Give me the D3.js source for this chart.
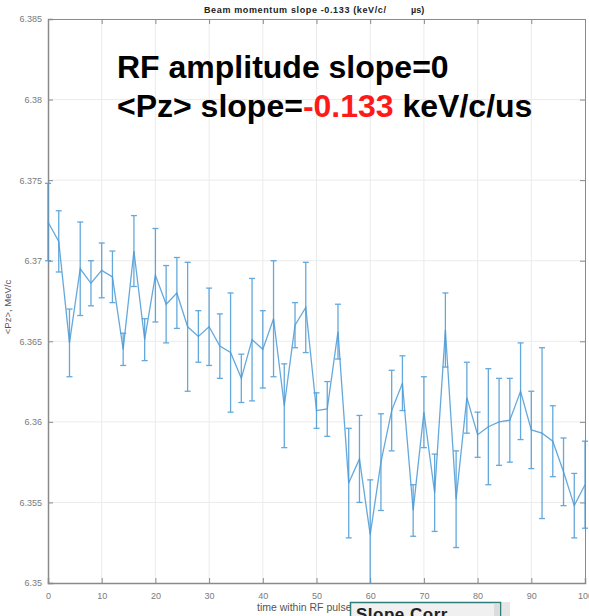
<!DOCTYPE html>
<html>
<head>
<meta charset="utf-8">
<script src="https://cdn.jsdelivr.net/npm/d3@7"></script>
<style>
  body { margin: 0; background: #fff; }
  svg { display: block; font-family: "Liberation Sans", Arial, sans-serif; }
</style>
</head>
<body>
<div id="chart"></div>
<script>
// time within RF pulse (us)
const times = d3.range(0, 101, 2);
// mean Pz (MeV/c)
const pzMean = [
  6.3724, 6.3712, 6.3649, 6.3695, 6.3686, 6.3694, 6.3690, 6.3645, 6.3706, 6.3651,
  6.3691, 6.3673, 6.3680, 6.3659, 6.3653, 6.3659, 6.3647, 6.3643, 6.3627, 6.3651,
  6.3645, 6.3664, 6.3610, 6.3660, 6.3671, 6.3607, 6.3608, 6.3656, 6.3562, 6.3577,
  6.3530, 6.3575, 6.3607, 6.3624, 6.3545, 6.3606, 6.3556, 6.3657, 6.3552, 6.3615,
  6.3592, 6.3597, 6.3600, 6.3601, 6.3619, 6.3595, 6.3593, 6.3588, 6.3569, 6.3548,
  6.3561
];
// half-length of error bars (MeV/c)
const pzErr = [
  0.0024, 0.0019, 0.0021, 0.0029, 0.0014, 0.0017, 0.0016, 0.0010, 0.0022, 0.0013,
  0.0029, 0.0024, 0.0022, 0.0040, 0.0016, 0.0024, 0.0020, 0.0037, 0.0015, 0.0038,
  0.0024, 0.0036, 0.0026, 0.0014, 0.0028, 0.0011, 0.0017, 0.0017, 0.0034, 0.0027,
  0.0034, 0.0030, 0.0025, 0.0017, 0.0016, 0.0022, 0.0024, 0.0023, 0.0030, 0.0022,
  0.0014, 0.0036, 0.0027, 0.0026, 0.0030, 0.0024, 0.0053, 0.0022, 0.0021, 0.0020,
  0.0027
];
const xTicks = [0, 10, 20, 30, 40, 50, 60, 70, 80, 90, 100];
const yTicks = [6.35, 6.355, 6.36, 6.365, 6.37, 6.375, 6.38, 6.385];
const yTickLabels = ["6.35", "6.355", "6.36", "6.365", "6.37", "6.375", "6.38", "6.385"];

const width = 589, height = 616;
const margin = { top: 19, right: 4, bottom: 33, left: 48 };

const svg = d3.select('#chart').append('svg')
  .attr('width', width).attr('height', height);

const x = d3.scaleLinear().domain([0, 100]).range([margin.left, width - margin.right]);
const y = d3.scaleLinear().domain([6.35, 6.385]).range([height - margin.bottom, margin.top]);

const data = times.map((t, i) => ({ t, v: pzMean[i], e: pzErr[i] }));

// grid
svg.append('g').selectAll('line').data(xTicks.slice(1, -1)).join('line')
  .attr('x1', d => x(d)).attr('x2', d => x(d))
  .attr('y1', y(6.385)).attr('y2', y(6.35))
  .attr('stroke', '#ebebeb').attr('stroke-width', 1);
svg.append('g').selectAll('line').data(yTicks.slice(1, -1)).join('line')
  .attr('x1', x(0)).attr('x2', x(100))
  .attr('y1', d => y(d)).attr('y2', d => y(d))
  .attr('stroke', '#ebebeb').attr('stroke-width', 1);

// axes (inward ticks, MATLAB style)
const tickColor = '#8a8a8a';
svg.append('g').attr('transform', `translate(0,${y(6.35)})`)
  .call(d3.axisBottom(x).tickValues(xTicks).tickSize(-5).tickPadding(10))
  .call(g => g.select('.domain').attr('stroke', tickColor).attr('stroke-width', 1.5));
svg.append('g').attr('transform', `translate(0,${y(6.385)})`)
  .call(d3.axisTop(x).tickValues(xTicks).tickSize(-5).tickFormat(''))
  .call(g => g.select('.domain').attr('stroke', tickColor).attr('stroke-width', 1));
svg.append('g').attr('transform', `translate(${x(0)},0)`)
  .call(d3.axisLeft(y).tickValues(yTicks).tickSize(-5).tickPadding(6)
    .tickFormat((d, i) => yTickLabels[i]))
  .call(g => g.select('.domain').attr('stroke', tickColor).attr('stroke-width', 1.5));
svg.append('g').attr('transform', `translate(${x(100)},0)`)
  .call(d3.axisRight(y).tickValues(yTicks).tickSize(-5).tickFormat(''))
  .call(g => g.select('.domain').attr('stroke', tickColor).attr('stroke-width', 1));

svg.selectAll('.tick line').attr('stroke', tickColor);
svg.selectAll('.tick text')
  .attr('fill', '#7a7a7a')
  .style('font-size', '9px')
  .style('font-family', '"Liberation Sans", Arial, sans-serif');

// error bars
const lineColor = '#4a9ad6';
const bars = svg.append('g').attr('stroke', lineColor).attr('stroke-width', 1.3).attr('opacity', 0.85);
bars.selectAll('line.v').data(data).join('line').attr('class', 'v')
  .attr('x1', d => x(d.t)).attr('x2', d => x(d.t))
  .attr('y1', d => y(d.v + d.e)).attr('y2', d => y(Math.max(6.35, d.v - d.e)));
bars.selectAll('line.top').data(data).join('line').attr('class', 'top')
  .attr('x1', d => x(d.t) - 3).attr('x2', d => x(d.t) + 3)
  .attr('y1', d => y(d.v + d.e)).attr('y2', d => y(d.v + d.e));
bars.selectAll('line.bot').data(data.filter(d => d.v - d.e > 6.35)).join('line').attr('class', 'bot')
  .attr('x1', d => x(d.t) - 3).attr('x2', d => x(d.t) + 3)
  .attr('y1', d => y(d.v - d.e)).attr('y2', d => y(d.v - d.e));

// mean line
svg.append('path').datum(data)
  .attr('fill', 'none').attr('stroke', lineColor).attr('stroke-width', 1.3).attr('opacity', 0.85)
  .attr('d', d3.line().x(d => x(d.t)).y(d => y(d.v)));

// title
const title = svg.append('text').attr('y', 13)
  .style('font-size', '9px').style('font-weight', 'bold').attr('fill', '#222');
title.append('tspan').attr('x', 204).attr('textLength', 182).text('Beam momentum slope -0.133 (keV/c/');
title.append('tspan').attr('x', 411).text('µs)');

// axis labels
svg.append('text')
  .attr('transform', `translate(11,307) rotate(-90)`)
  .attr('text-anchor', 'middle')
  .style('font-size', '9.5px').attr('fill', '#555')
  .text('<Pz>, MeV/c');
svg.append('text').attr('x', 257).attr('y', 611)
  .style('font-size', '10.5px').attr('fill', '#555')
  .text('time within RF pulse (µs)');

// annotation
svg.append('text').attr('x', 117).attr('y', 78)
  .style('font-size', '32px').style('font-weight', 'bold').attr('fill', '#000')
  .text('RF amplitude slope=0');
const ann = svg.append('text').attr('x', 117).attr('y', 117)
  .style('font-size', '32px').style('font-weight', 'bold').attr('fill', '#000');
ann.append('tspan').text('<Pz> slope=');
ann.append('tspan').attr('fill', '#ff1a1a').text('-0.133');
ann.append('tspan').text(' keV/c/us');

// overlapping "Slope Corr" box at bottom
svg.append('rect').attr('x', 500).attr('y', 602).attr('width', 10).attr('height', 14).attr('fill', '#e6e6e6');
svg.append('rect').attr('x', 350.5).attr('y', 602.5).attr('width', 150).attr('height', 20)
  .attr('fill', '#f0f0f0').attr('stroke', '#2f7d7a').attr('stroke-width', 1.5);
svg.append('rect').attr('x', 494).attr('y', 603.5).attr('width', 6).attr('height', 13).attr('fill', '#dcdcdc');
svg.append('text').attr('x', 356).attr('y', 620)
  .style('font-size', '17px').style('font-weight', 'bold').attr('fill', '#222')
  .style('letter-spacing', '0.5px')
  .text('Slope Corr');
</script>
</body>
</html>
